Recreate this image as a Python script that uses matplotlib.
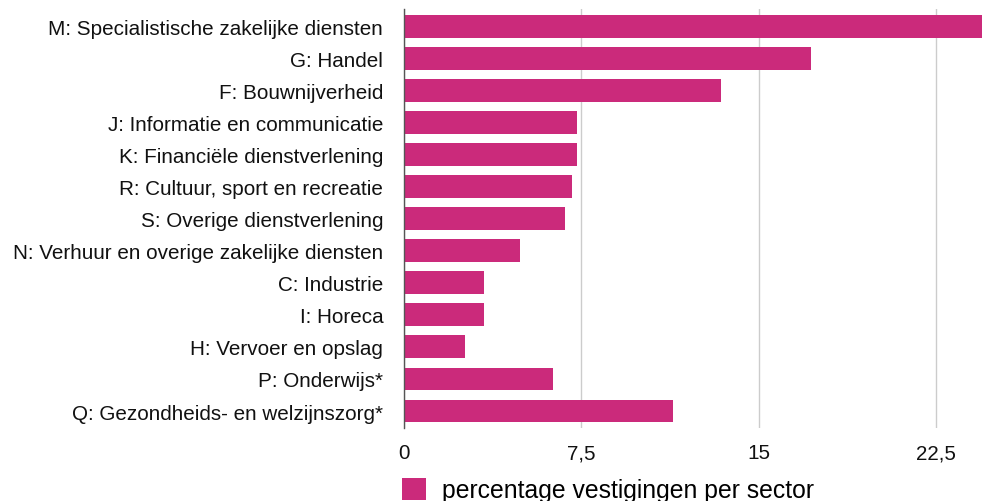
import matplotlib.pyplot as plt
from matplotlib.patches import Patch

plt.rcParams['font.family'] = ['Liberation Sans', 'DejaVu Sans']

sectors = [
    "M: Specialistische zakelijke diensten",
    "G: Handel",
    "F: Bouwnijverheid",
    "J: Informatie en communicatie",
    "K: Financiële dienstverlening",
    "R: Cultuur, sport en recreatie",
    "S: Overige dienstverlening",
    "N: Verhuur en overige zakelijke diensten",
    "C: Industrie",
    "I: Horeca",
    "H: Vervoer en opslag",
    "P: Onderwijs*",
    "Q: Gezondheids- en welzijnszorg*",
]
percentages = [24.9, 17.2, 13.4, 7.3, 7.3, 7.1, 6.8, 4.9, 3.4, 3.4, 2.6, 6.3, 11.4]
xticks = [0, 7.5, 15, 22.5]
xtick_labels = ["0", "7,5", "15", "22,5"]
legend_label = "percentage vestigingen per sector"

bar_color = "#cb2a7b"

fig = plt.figure(figsize=(9.82, 5.02), dpi=100)
ax = fig.add_axes([0.4114, 0.1454, 0.5886, 0.835])

ypos = list(range(len(sectors)))
ax.barh(ypos, percentages, height=0.71, color=bar_color, zorder=3)

ax.set_xlim(0, 24.45)
ax.set_ylim(12.53, -0.54)
ax.set_yticks(ypos)
ax.set_yticklabels(sectors, fontsize=14.9, color="#111111")
ax.set_xticks(xticks)
ax.set_xticklabels(xtick_labels, fontsize=14.9, color="#111111")
ax.tick_params(axis='both', length=0)
ax.tick_params(axis='y', pad=15)
ax.tick_params(axis='x', pad=11)

ax.grid(axis='x', color="#cccccc", linewidth=1, zorder=0)
for side in ["top", "right", "bottom"]:
    ax.spines[side].set_visible(False)
ax.spines["left"].set_color("#555555")
ax.spines["left"].set_linewidth(1)
ax.spines["left"].set_zorder(4)

handle = Patch(facecolor=bar_color, edgecolor="none")
fig.legend([handle], [legend_label], loc="lower left",
           bbox_to_anchor=(0.399, -0.022), frameon=False,
           fontsize=17.8, handlelength=1.0, handleheight=1.0,
           handletextpad=0.62, borderaxespad=0)

fig.savefig("out.png", dpi=100)
